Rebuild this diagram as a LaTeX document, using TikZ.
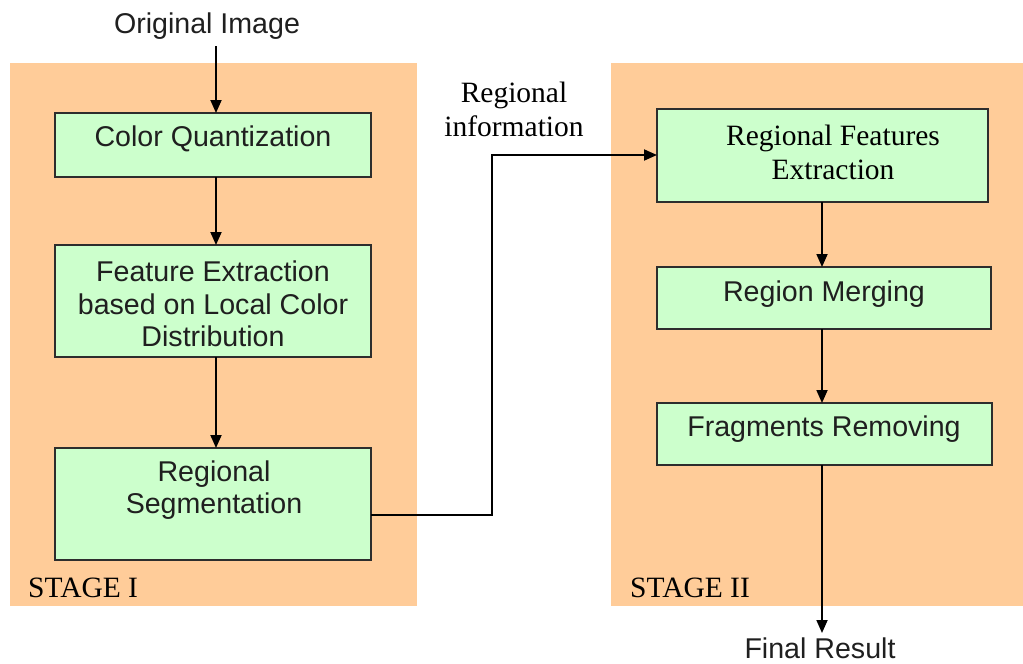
\documentclass[tikz,border=0pt]{standalone}
\usepackage{fontspec}
\setmainfont{Liberation Serif}
\setsansfont{Liberation Sans}
\usetikzlibrary{arrows.meta}
\definecolor{panel}{RGB}{255,204,153}
\definecolor{boxfill}{RGB}{204,255,204}
\definecolor{boxline}{RGB}{45,45,45}
\tikzset{
  stagepanel/.style={fill=panel, draw=none},
  procbox/.style={draw=boxline, fill=boxfill, line width=1.6pt},
  sanslbl/.style={font=\sffamily\fontsize{28.6}{32.5}\selectfont, text=black!88, align=center, inner sep=0pt},
  seriflbl/.style={font=\rmfamily\fontsize{29.5}{34}\selectfont, text=black, align=center, inner sep=0pt},
  conn/.style={line width=1.8pt, -{Triangle[length=13pt,width=11pt]}},
  plainconn/.style={line width=1.8pt}
}
\begin{document}
\begin{tikzpicture}[x=1pt,y=-1pt]
\useasboundingbox (0,0) rectangle (1023,664);
% panels
\fill[stagepanel] (10,63) rectangle (417,606);
\fill[stagepanel] (611,63) rectangle (1023,606);
% boxes
\draw[procbox] (55,113) rectangle (371,177);
\draw[procbox] (55,245) rectangle (371,357);
\draw[procbox] (55,448) rectangle (371,560);
\draw[procbox] (657,109) rectangle (988,202);
\draw[procbox] (657,267) rectangle (991,329);
\draw[procbox] (657,403) rectangle (992,465);
% connection points
\coordinate (cqT) at (216,113);
\coordinate (cqB) at (216,177);
\coordinate (feT) at (216,245);
\coordinate (feB) at (216,357);
\coordinate (rsT) at (216,448);
\coordinate (rsR) at (371,515);
\coordinate (bend1) at (492,515);
\coordinate (bend2) at (492,155);
\coordinate (rfeL) at (657,155);
\coordinate (rfeB) at (822,202);
\coordinate (rmT) at (822,267);
\coordinate (rmB) at (822,329);
\coordinate (frT) at (822,403);
\coordinate (frB) at (822,465);
\coordinate (orig) at (216,46);
\coordinate (fin) at (822,633);
% texts
\node[sanslbl] (torig) at (207,26) {Original Image};
\node[sanslbl] (tcq) at (213,139) {Color Quantization};
\node[sanslbl] (tfe) at (213,304) {Feature Extraction\\based on Local Color\\Distribution};
\node[sanslbl] (trs) at (214,490) {Regional\\Segmentation};
\node[seriflbl] (trfe) at (833,152) {Regional Features\\Extraction};
\node[sanslbl] (trm) at (824,294) {Region Merging};
\node[sanslbl] (tfr) at (824,429) {Fragments Removing};
\node[sanslbl] (tfin) at (820,648.5) {Final Result};
\node[seriflbl] (tri) at (514,109) {Regional\\information};
\node[seriflbl, anchor=west] (st1) at (28,588) {STAGE I};
\node[seriflbl, anchor=west] (st2) at (630,588) {STAGE II};
% connectors
\draw[conn] (orig) -- (cqT);
\draw[conn] (cqB) -- (feT);
\draw[conn] (feB) -- (rsT);
\draw[conn] (rsR) -- (bend1) -- (bend2) -- (rfeL);
\draw[conn] (rfeB) -- (rmT);
\draw[conn] (rmB) -- (frT);
\draw[conn] (frB) -- (fin);
\end{tikzpicture}
\end{document}
